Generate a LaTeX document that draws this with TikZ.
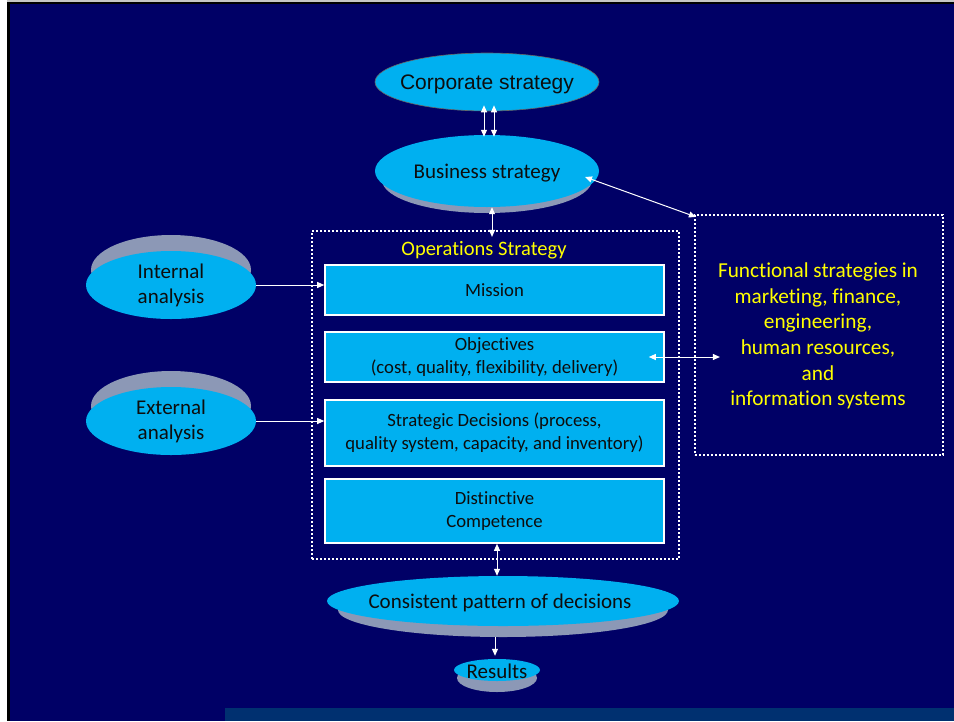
\documentclass[tikz,border=0pt]{standalone}
\usepackage{fontspec}
\setmainfont{Carlito}[Ligatures=NoCommon]
\newfontfamily\arialf{Liberation Sans}
\usetikzlibrary{shapes.geometric,arrows.meta,calc}
\definecolor{navyc}{HTML}{000066}
\definecolor{stripc}{HTML}{003070}
\definecolor{cyanc}{HTML}{00B0F0}
\definecolor{sidec}{HTML}{8C98B6}
\definecolor{txtc}{HTML}{0D0D0D}
\definecolor{yelc}{HTML}{FFFF00}
\begin{document}
\begin{tikzpicture}[x=1pt,y=-1pt,
  disc/.style={ellipse, fill=cyanc, inner sep=0pt, draw=none},
  side/.style={ellipse, fill=sidec, inner sep=0pt, draw=none},
  lbl/.style={text=txtc, align=center, font=\fontsize{21}{25}\selectfont},
  sbox/.style={rectangle, draw=white, line width=1.6pt, fill=cyanc, minimum width=339pt, text=txtc, align=center, font=\fontsize{18.7}{23}\selectfont},
  dotbox/.style={rectangle, draw=white, line width=2.2pt, dash pattern=on 2pt off 2pt},
  arr/.style={white, line width=1pt, -{Triangle[length=7pt,width=6pt]}},
  darr/.style={white, line width=1pt, {Triangle[length=7pt,width=6pt]}-{Triangle[length=7pt,width=6pt]}}]
\useasboundingbox (0,0) rectangle (954,721);
% background
\fill[white] (0,0) rectangle (954,721);
\fill[gray!45] (7,0) rectangle (954,1.5);
\fill[black] (7,1.5) rectangle (954,721);
\fill[navyc] (10,3.5) rectangle (954,721);
\fill[stripc] (225,708) rectangle (954,721);

% corporate strategy
\node[disc, draw=black!60, line width=0.6pt, minimum width=224pt, minimum height=58pt] (corp) at (487,82) {};
\node[lbl, font=\arialf\fontsize{21}{25}\selectfont] (corpT) at (487,84) {Corporate strategy};

% business strategy
\node[side, minimum width=210pt, minimum height=66pt] (busG) at (487,180) {};
\node[disc, minimum width=224pt, minimum height=72pt] (bus) at (487,171) {};
\node[lbl] (busT) at (487,173) {Business strategy};

% internal / external analysis
\node[side, minimum width=160pt, minimum height=70pt] (intG) at (171,270) {};
\node[disc, minimum width=170pt, minimum height=68pt] (int) at (171,285) {};
\node[lbl] (intT) at (171,285) {Internal\\analysis};
\node[side, minimum width=160pt, minimum height=70pt] (extG) at (171,406) {};
\node[disc, minimum width=170pt, minimum height=68pt] (ext) at (171,421) {};
\node[lbl] (extT) at (171,421) {External\\analysis};

% operations strategy box
\node[dotbox, minimum width=367pt, minimum height=328pt] (ops) at (495.5,395) {};
\node[text=yelc, font=\fontsize{20.5}{24}\selectfont] (opsT) at (484,250) {Operations Strategy};
\node[sbox, minimum height=50pt] (mis) at (494.5,290) {Mission};
\node[sbox, minimum height=50pt] (obj) at (494.5,357) {Objectives\\(cost, quality, flexibility, delivery)};
\node[sbox, minimum height=66pt] (str) at (494.5,433) {Strategic Decisions (process,\\quality system, capacity, and inventory)};
\node[sbox, minimum height=64pt] (dis) at (494.5,511) {Distinctive\\Competence};

% functional strategies box
\node[dotbox, minimum width=248pt, minimum height=240pt] (fun) at (819,335) {};
\node[text=yelc, align=center, font=\fontsize{21.3}{25.6}\selectfont] (funT) at (818,336)
  {Functional strategies in\\marketing, finance,\\engineering,\\human resources,\\and\\information systems};

% consistent pattern
\node[side, minimum width=330pt, minimum height=54pt] (consG) at (503,610) {};
\node[disc, minimum width=352pt, minimum height=50pt] (cons) at (503,601) {};
\node[lbl] (consT) at (500,603) {Consistent pattern of decisions};

% results
\node[side, minimum width=80pt, minimum height=28pt] (resG) at (497,678) {};
\node[disc, minimum width=86pt, minimum height=22pt] (res) at (497,670) {};
\node[lbl] (resT) at (497,671) {Results};

% connectors
\coordinate (busR) at ($(bus.center)+(98,6)$);
\draw[darr] ([xshift=-3pt,yshift=6pt]corp.south) -- ([xshift=-3pt,yshift=-2pt]bus.north);
\draw[darr] ([xshift=7pt,yshift=6pt]corp.south) -- ([xshift=7pt,yshift=-2pt]bus.north);
\draw[darr] ([xshift=5pt]bus.south) -- ([xshift=5pt,yshift=-7pt]bus.south |- ops.north);
\draw[darr] (busR) -- ([xshift=2pt,yshift=-3pt]fun.north west);
\draw[arr] (int.east) -- (int.east -| mis.west);
\draw[arr] (ext.east) -- (ext.east -| str.west);
\draw[darr] ([xshift=-16pt]obj.east) -- ([xshift=26pt]obj.east -| fun.west);
\draw[darr] ([xshift=2.5pt]dis.south) -- ([xshift=2.5pt]dis.south |- cons.north);
\draw[arr] (consG.south -| 495,0) -- ([yshift=3pt]res.north -| 495,0);
\end{tikzpicture}
\end{document}
